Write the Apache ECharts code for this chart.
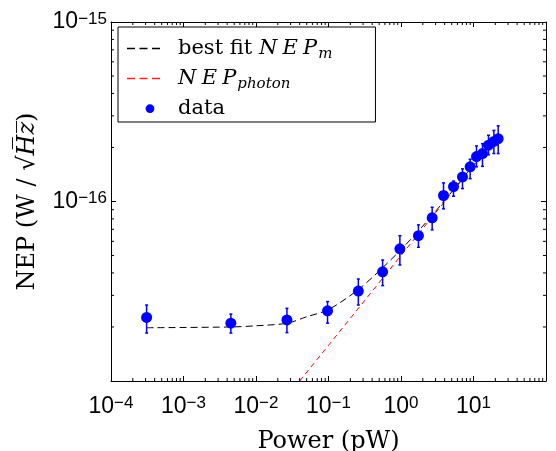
<!DOCTYPE html>
<html>
<head>
<meta charset="utf-8">
<script src="https://cdn.jsdelivr.net/npm/echarts@6/dist/echarts.min.js"></script>
<style>html,body{margin:0;padding:0;background:#fff}#c{width:556px;height:451px}</style>
</head>
<body>
<div id="c"></div>
<script>
// ---- data ----
var power   = [3.1e-4, 4.5e-3, 0.0267, 0.097, 0.258, 0.558, 0.965, 1.74, 2.69, 3.86, 5.3, 7.05, 8.99, 11.0, 13.3, 16.1, 19.1, 21.9];
var nep     = [2.26e-17, 2.10e-17, 2.19e-17, 2.46e-17, 3.17e-17, 4.06e-17, 5.45e-17, 6.45e-17, 8.11e-17, 1.08e-16, 1.21e-16, 1.37e-16, 1.56e-16, 1.78e-16, 1.85e-16, 2.06e-16, 2.16e-16, 2.24e-16];
var nepLow  = [1.85e-17, 1.85e-17, 1.86e-17, 2.10e-17, 2.65e-17, 3.40e-17, 4.43e-17, 5.56e-17, 6.95e-17, 9.10e-17, 1.07e-16, 1.18e-16, 1.34e-16, 1.56e-16, 1.57e-16, 1.82e-16, 1.85e-16, 1.85e-16];
var nepHigh = [2.65e-17, 2.36e-17, 2.54e-17, 2.77e-17, 3.70e-17, 4.72e-17, 6.45e-17, 7.41e-17, 9.29e-17, 1.27e-16, 1.30e-16, 1.52e-16, 1.72e-16, 2.04e-16, 2.10e-16, 2.34e-16, 2.49e-16, 2.64e-16];

var fitPower = [3.1e-4, 4.5e-3, 0.01, 0.027, 0.05, 0.1, 0.25, 0.5, 1, 2, 5, 10, 22];
var fitNep   = [1.98e-17, 2.0e-17, 2.03e-17, 2.1e-17, 2.28e-17, 2.5e-17, 3.2e-17, 4.1e-17, 5.4e-17, 7.3e-17, 1.13e-16, 1.6e-16, 2.35e-16];

var photonPower = [0.04, 0.1, 1, 10, 22];
var photonNep   = [1.0e-17, 1.58e-17, 5.0e-17, 1.58e-16, 2.35e-16];

var xTickExp = [-4, -3, -2, -1, 0, 1];
var yTickExp = [-16, -15];
var xDecades = [1e-4, 1e-3, 1e-2, 1e-1, 1, 10];
var yDecades = [1e-17, 1e-16];
var minorMult = [2, 3, 4, 5, 6, 7, 8, 9];

var xMin = 1e-4, xMax = 100, yMin = 1e-17, yMax = 1e-15;

var seriesNames = ['best fit NEP_m', 'NEP_photon', 'data'];

// ---- build ----
function zip(a, b) { return a.map(function (v, i) { return [v, b[i]]; }); }
var errData = power.map(function (p, i) { return [p, nepLow[i], nepHigh[i]]; });

var xMinor = [], yMinor = [];
xDecades.forEach(function (d) { minorMult.forEach(function (m) { xMinor.push(d * m); }); });
yDecades.forEach(function (d) { minorMult.forEach(function (m) { yMinor.push(d * m); }); });

function tickLabel(list) {
  return function (v) {
    var e = Math.round(Math.log10(v));
    if (list.indexOf(e) < 0) return '';
    return '{b|10}{s|' + (e < 0 ? '\u2212' : '') + Math.abs(e) + '}';
  };
}
var tickRich = {
  b: { fontFamily: 'Liberation Sans', fontSize: 23, lineHeight: 23, color: '#000', verticalAlign: 'bottom' },
  s: { fontFamily: 'Liberation Sans', fontSize: 17, lineHeight: 17, color: '#000', verticalAlign: 'top', padding: [0, 0, 13, 0] }
};

var chart = echarts.init(document.getElementById('c'), null, { renderer: 'canvas' });

var axisLine = { show: true, onZero: false, lineStyle: { color: '#000', width: 1 } };
var axisTick = { show: true, inside: true, length: 5, lineStyle: { color: '#000', width: 1 } };

var dashIcon = 'path://M0,0h8v1.5h-8z M12.5,0h8v1.5h-8z M25,0h8v1.5h-8z M46,0L46,1.5';
var dotIcon = 'path://M23,0.2a4.4,4.4 0 1,0 0.01,0z M0,0L0,8.8 M46,0L46,8.8';

var serif = 'DejaVu Serif';

chart.setOption({
  animation: false,
  backgroundColor: '#fff',
  grid: { left: 111, right: 10, top: 22, bottom: 70, containLabel: false, outerBoundsMode: 'none' },
  xAxis: [{
    type: 'log', logBase: 10, min: xMin, max: xMax, splitNumber: 6,
    axisLine: axisLine, axisTick: axisTick, splitLine: { show: false },
    axisLabel: { formatter: tickLabel(xTickExp), rich: tickRich, margin: 14, showMaxLabel: false },
    name: 'Power (pW)', nameLocation: 'middle', nameGap: 39,
    nameTextStyle: { fontFamily: serif, fontSize: 24, color: '#000' }
  }, {
    type: 'log', logBase: 10, min: xMin, max: xMax, splitNumber: 6, position: 'top',
    axisLine: axisLine, axisTick: axisTick, splitLine: { show: false }, axisLabel: { show: false }
  }],
  yAxis: [{
    type: 'log', logBase: 10, min: yMin, max: yMax, splitNumber: 2,
    axisLine: axisLine, axisTick: axisTick, splitLine: { show: false },
    axisLabel: { formatter: tickLabel(yTickExp), rich: tickRich, margin: 4, showMinLabel: false },
    name: 'NEP (W / \u221A{it|H\u0305z\u0305})', nameLocation: 'middle', nameGap: 71,
    nameTextStyle: { fontFamily: serif, fontSize: 24, color: '#000',
      rich: { it: { fontFamily: serif, fontStyle: 'italic', fontSize: 24, color: '#000' } } }
  }, {
    type: 'log', logBase: 10, min: yMin, max: yMax, splitNumber: 2, position: 'right',
    axisLine: axisLine, axisTick: axisTick, splitLine: { show: false }, axisLabel: { show: false }
  }],
  legend: {
    orient: 'vertical', left: 118, top: 27,
    padding: [11, 43, 3, 9], itemGap: 6, itemWidth: 46, itemHeight: 9,
    borderColor: '#000', borderWidth: 1, backgroundColor: '#fff',
    data: [
      { name: seriesNames[0], icon: dashIcon, itemStyle: { color: '#000' } },
      { name: seriesNames[1], icon: dashIcon, itemStyle: { color: '#ff2020' } },
      { name: seriesNames[2], icon: dotIcon, itemStyle: { color: '#0000ff' } }
    ],
    formatter: function (n) {
      if (n === 'best fit NEP_m') return 'best fit {i|N\u2005E\u2005P}{sub|m}';
      if (n === 'NEP_photon') return '{i|N\u2005E\u2005P}{sub|photon}';
      return n;
    },
    textStyle: {
      fontFamily: serif, fontSize: 21, color: '#000',
      rich: {
        i: { fontFamily: serif, fontStyle: 'italic', fontSize: 21, color: '#000' },
        sub: { fontFamily: serif, fontStyle: 'italic', fontSize: 15, color: '#000', verticalAlign: 'top', padding: [12, 0, 0, 1] }
      }
    }
  },
  series: [
    {
      name: seriesNames[0], type: 'line', data: zip(fitPower, fitNep), symbol: 'none', smooth: 0.3,
      lineStyle: { color: '#000', width: 1, type: [7, 4] }, itemStyle: { color: '#000' }, z: 2
    },
    {
      name: seriesNames[1], type: 'line', data: zip(photonPower, photonNep), symbol: 'none',
      lineStyle: { color: '#ff0000', width: 1, type: [5, 4] }, itemStyle: { color: '#ff0000' }, z: 2
    },
    {
      name: 'err', type: 'custom', data: errData, z: 3, silent: true,
      renderItem: function (params, api) {
        var lo = api.coord([api.value(0), api.value(1)]);
        var hi = api.coord([api.value(0), api.value(2)]);
        var st = { stroke: '#0000ff', lineWidth: 1.5 };
        return { type: 'group', children: [
          { type: 'line', shape: { x1: lo[0], y1: lo[1], x2: hi[0], y2: hi[1] }, style: st },
          { type: 'line', shape: { x1: lo[0] - 1.5, y1: lo[1], x2: lo[0] + 1.5, y2: lo[1] }, style: st },
          { type: 'line', shape: { x1: hi[0] - 1.5, y1: hi[1], x2: hi[0] + 1.5, y2: hi[1] }, style: st }
        ] };
      }
    },
    {
      name: seriesNames[2], type: 'scatter', data: zip(power, nep), symbol: 'circle', symbolSize: 11,
      itemStyle: { color: '#0000ff', opacity: 1 }, z: 4
    },
    {
      name: 'xminor', type: 'custom', data: xMinor.map(function (v) { return [v]; }), silent: true, z: 5,
      renderItem: function (params, api) {
        var b = api.coord([api.value(0), yMin]);
        var t = api.coord([api.value(0), yMax]);
        var st = { stroke: '#000', lineWidth: 1 };
        return { type: 'group', children: [
          { type: 'line', shape: { x1: b[0], y1: b[1], x2: b[0], y2: b[1] - 3 }, style: st },
          { type: 'line', shape: { x1: t[0], y1: t[1], x2: t[0], y2: t[1] + 3 }, style: st }
        ] };
      }
    },
    {
      name: 'yminor', type: 'custom', data: yMinor.map(function (v) { return [xMin, v]; }), silent: true, z: 5,
      renderItem: function (params, api) {
        var l = api.coord([xMin, api.value(1)]);
        var r = api.coord([xMax, api.value(1)]);
        var st = { stroke: '#000', lineWidth: 1 };
        return { type: 'group', children: [
          { type: 'line', shape: { x1: l[0], y1: l[1], x2: l[0] + 3, y2: l[1] }, style: st },
          { type: 'line', shape: { x1: r[0], y1: r[1], x2: r[0] - 3, y2: r[1] }, style: st }
        ] };
      }
    }
  ]
});
</script>
</body>
</html>
